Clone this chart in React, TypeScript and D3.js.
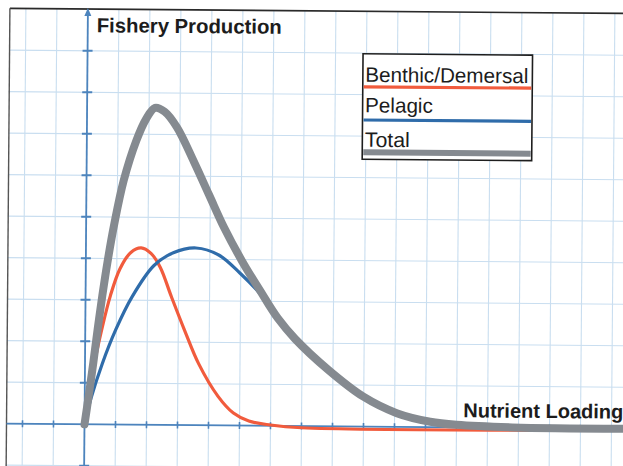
import React from 'react';
import * as d3 from 'd3';

type Pt = [number, number];

// Values in grid units (x: nutrient loading, y: fishery production)
const benthicDemersal: Pt[] = [
  [0, 0], [0.3, 1.45], [0.55, 2.35], [0.8, 3.1], [1.1, 3.75], [1.45, 4.15], [1.78, 4.26],
  [2.1, 4.13], [2.4, 3.8], [2.77, 3.09], [3.2, 2.29], [3.66, 1.49], [4.3, 0.7],
  [4.8, 0.3], [5.3, 0.11], [6.0, 0.02], [7.0, -0.04], [17.6, -0.04],
];
const pelagic: Pt[] = [
  [0, 0], [0.2, 0.62], [0.56, 1.47], [0.98, 2.28], [1.5, 3.08], [2.2, 3.84],
  [2.82, 4.15], [3.55, 4.27], [4.3, 4.1], [4.98, 3.67], [5.52, 3.27], [5.9, 2.93],
  [6.77, 2.12], [7.85, 1.33], [8.99, 0.69], [10.07, 0.31], [11.15, 0.12], [12.0, 0.05],
  [13.8, 0.01], [17.6, 0],
];
const total: Pt[] = [
  [0, 0], [0.13, 0.7], [0.27, 1.5], [0.4, 2.3], [0.54, 3.1], [0.7, 3.92], [0.9, 4.8],
  [1.2, 5.88], [1.6, 6.85], [1.9, 7.36], [2.19, 7.64], [2.5, 7.55], [2.9, 7.18],
  [3.46, 6.35], [3.96, 5.55], [4.45, 4.77], [5.05, 3.95], [5.65, 3.23], [6.2, 2.6],
  [6.77, 2.1], [7.85, 1.36], [8.99, 0.72], [10.07, 0.33], [11.15, 0.13], [12.0, 0.06],
  [13.8, 0.01], [17.6, 0],
];

const legendLabels = ['Benthic/Demersal', 'Pelagic', 'Total'];
const legendTextWidths = [163, 67.7, 45];
const gridXUnits = d3.range(-2, 19);
const gridYUnits = d3.range(-1, 10);

const W = 623;
const H = 466;
const OX = 84.5;
const OY = 424.3;
const ROT = 0.47;

const RED = '#f15b3d';
const BLUE = '#2f6caa';
const GRAY = '#858a90';
const GRID = '#c9def0';
const AXIS = '#4d84bd';
const FONT = '"Liberation Sans", Arial, sans-serif';

export default function App() {
  const x = d3.scaleLinear().domain([0, 1]).range([OX, OX + 31]);
  const y = d3.scaleLinear().domain([0, 1]).range([OY, OY - 41.5]);
  const line = d3
    .line<Pt>()
    .x((d) => x(d[0]))
    .y((d) => y(d[1]))
    .curve(d3.curveCatmullRom.alpha(0.5));

  const lx0 = 360;
  const ly0 = 51.5;
  const lw = 169.5;
  const lh = 105.5;
  const legendBase = [28, 58.5, 93];
  const legendLineY = [33, 66.2, 98.5];
  const legendColors = [RED, BLUE, GRAY];
  const legendWidths = [3.2, 3.2, 6];

  return (
    <svg
      width={W}
      height={H}
      style={{ position: 'absolute', left: 0, top: 0, background: '#fff' }}
    >
      <rect x={0} y={0} width={W} height={H} fill="#fff" />
      <g transform={`rotate(${ROT}, ${OX}, ${OY})`}>
        {/* grid */}
        {gridXUnits.map((u) => (
          <line key={'gx' + u} x1={x(u)} x2={x(u)} y1={9} y2={475} stroke={GRID} strokeWidth={1.1} />
        ))}
        {gridYUnits.map((v) => (
          <line key={'gy' + v} x1={6} x2={650} y1={y(v)} y2={y(v)} stroke={GRID} strokeWidth={1.1} />
        ))}
        {/* paper frame */}
        <line x1={6.5} x2={650} y1={9} y2={9} stroke="#2a2a2a" strokeWidth={1.6} />
        <line x1={6.5} x2={6.5} y1={9} y2={475} stroke="#555" strokeWidth={1.4} />
        {/* axes */}
        <line x1={6.5} x2={650} y1={OY} y2={OY} stroke={AXIS} strokeWidth={1.8} />
        <line x1={OX} x2={OX} y1={14} y2={475} stroke={AXIS} strokeWidth={1.8} />
        <path d={`M${OX},8 L${OX - 3.5},16 L${OX + 3.5},16 Z`} fill={AXIS} />
        {gridYUnits.filter((v) => v !== 0).map((v) => (
          <line key={'ty' + v} x1={OX - 5} x2={OX + 5} y1={y(v)} y2={y(v)} stroke={AXIS} strokeWidth={2} />
        ))}
        {gridXUnits.filter((u) => u !== 0).map((u) => (
          <line key={'tx' + u} x1={x(u)} x2={x(u)} y1={OY - 3.5} y2={OY + 3.5} stroke={AXIS} strokeWidth={1.6} />
        ))}
        {/* curves */}
        <path d={line(benthicDemersal) || ''} fill="none" stroke={RED} strokeWidth={3.2} />
        <path d={line(pelagic) || ''} fill="none" stroke={BLUE} strokeWidth={3.2} />
        <path d={line(total) || ''} fill="none" stroke={GRAY} strokeWidth={8} strokeLinecap="round" strokeLinejoin="round" />
        {/* labels */}
        <text
          x={93.5}
          y={32.2}
          fontFamily={FONT}
          fontWeight="bold"
          fontSize={20.3}
          fill="#1c1c1c"
          textLength={185}
          lengthAdjust="spacingAndGlyphs"
        >
          Fishery Production
        </text>
        <text
          x={463.2}
          y={414.2}
          fontFamily={FONT}
          fontWeight="bold"
          fontSize={20}
          fill="#1c1c1c"
          textLength={160}
          lengthAdjust="spacingAndGlyphs"
        >
          Nutrient Loading
        </text>
        {/* legend */}
        <rect x={lx0} y={ly0} width={lw} height={lh} fill="#fff" stroke="#1e1e1e" strokeWidth={1.6} />
        {legendLabels.map((lab, i) => (
          <g key={lab}>
            <text
              x={lx0 + 2.5}
              y={ly0 + legendBase[i]}
              fontFamily={FONT}
              fontSize={20.7}
              fill="#1c1c1c"
              textLength={legendTextWidths[i]}
              lengthAdjust="spacingAndGlyphs"
            >
              {lab}
            </text>
            <line
              x1={lx0 + 1}
              x2={lx0 + lw - 1}
              y1={ly0 + legendLineY[i]}
              y2={ly0 + legendLineY[i]}
              stroke={legendColors[i]}
              strokeWidth={legendWidths[i]}
            />
          </g>
        ))}
      </g>
    </svg>
  );
}
